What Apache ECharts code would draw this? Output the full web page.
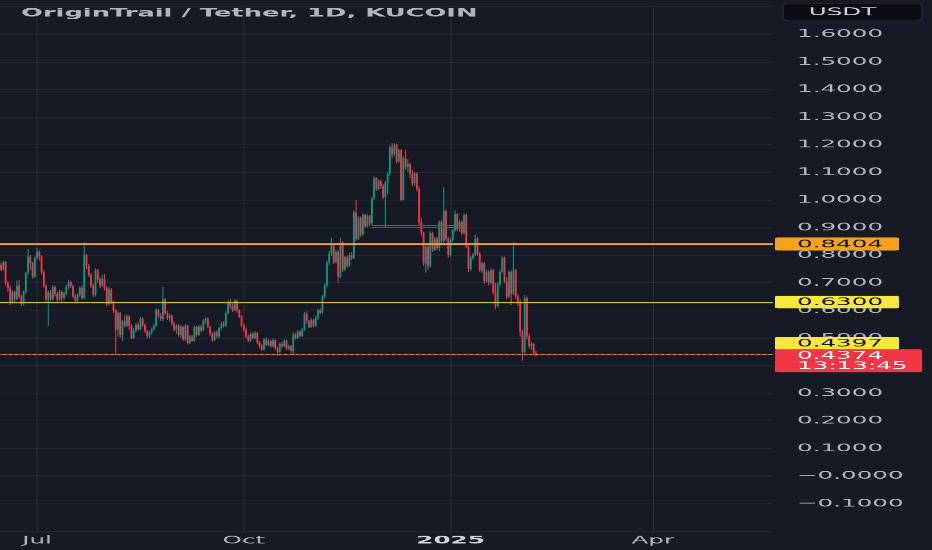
<!DOCTYPE html>
<html>
<head>
<meta charset="utf-8">
<script src="https://cdn.jsdelivr.net/npm/echarts@6/dist/echarts.min.js"></script>
<style>
html,body{margin:0;padding:0;width:932px;height:550px;overflow:hidden;background:#161a25;}
#chart{width:405px;height:550px;transform-origin:0 0;}
</style>
</head>
<body>
<div id="chart"></div>
<script>
// ---------------- data ----------------
const chartTitle = 'OriginTrail / Tether, 1D, KUCOIN';
const currency = 'USDT';
const startDate = '2024-06-15';
const dayCount = 344; // categories shown on the time axis (incl. empty future)
const tickDates = ['2024-07-01', '2024-10-01', '2025-01-01', '2025-04-01'];
const tickLabels = ['Jul', 'Oct', '2025', 'Apr'];

const opens = [
.765,.748,.775,.700,.680,.628,.668,.640,.690,.650,
.622,.668,.735,.795,.770,.722,.790,.812,.795,.740,
.690,.640,.665,.640,.685,.660,.640,.668,.645,.662,
.685,.702,.688,.650,.635,.655,.680,.645,.800,.760,
.728,.690,.655,.745,.712,.690,.715,.680,.622,.675,
.630,.600,.530,.590,.512,.560,.545,.578,.545,.500,
.528,.548,.532,.570,.548,.525,.505,.520,.532,.545,
.602,.580,.568,.640,.590,.572,.580,.552,.530,.545,
.512,.540,.495,.545,.482,.505,.490,.540,.512,.540,
.528,.563,.570,.540,.515,.492,.520,.505,.535,.552,
.545,.590,.630,.615,.600,.635,.600,.578,.545,.530,
.505,.490,.515,.500,.518,.485,.470,.458,.495,.475,
.490,.470,.492,.462,.450,.478,.470,.490,.462,.470,
.452,.512,.500,.522,.508,.530,.588,.560,.540,.565,
.545,.572,.600,.592,.650,.690,.772,.805,.835,.775,
.812,.722,.845,.748,.792,.762,.800,.790,.955,.860,
.935,.875,.945,.905,.940,.915,1.005,1.078,1.040,1.068,
1.050,1.010,1.062,1.095,1.190,1.165,1.200,1.140,1.180,1.000,
1.150,1.120,1.130,1.095,1.060,1.095,1.040,.920,.880,.770,
.830,.760,.880,.820,.860,.825,.920,.850,.960,.860,
.800,.855,.890,.948,.895,.920,.880,.945,.830,.750,
.790,.800,.860,.805,.745,.770,.705,.740,.700,.745,
.665,.615,.695,.740,.790,.705,.650,.740,.660,.745,
.650,.630,.520,.450,.645,.505,.470,.478,.445
];
const closes = [
.748,.775,.700,.680,.628,.668,.640,.690,.650,.622,
.668,.735,.795,.770,.722,.790,.812,.795,.740,.690,
.640,.665,.640,.685,.660,.640,.668,.645,.662,.685,
.702,.688,.650,.635,.655,.680,.645,.800,.760,.728,
.690,.655,.745,.712,.690,.715,.680,.622,.675,.630,
.600,.530,.590,.512,.560,.545,.578,.545,.500,.528,
.548,.532,.570,.548,.525,.505,.520,.532,.545,.602,
.580,.568,.640,.590,.572,.580,.552,.530,.545,.512,
.540,.495,.545,.482,.505,.490,.540,.512,.540,.528,
.563,.570,.540,.515,.492,.520,.505,.535,.552,.545,
.590,.630,.615,.600,.635,.600,.578,.545,.530,.505,
.490,.515,.500,.518,.485,.470,.458,.495,.475,.490,
.470,.492,.462,.450,.478,.470,.490,.462,.470,.452,
.512,.500,.522,.508,.530,.588,.560,.540,.565,.545,
.572,.600,.592,.650,.690,.772,.805,.835,.775,.812,
.722,.845,.748,.792,.762,.800,.790,.955,.860,.935,
.875,.945,.905,.940,.915,1.005,1.078,1.040,1.068,1.050,
1.010,1.062,1.095,1.190,1.165,1.200,1.140,1.180,1.000,1.150,
1.120,1.130,1.095,1.060,1.095,1.040,.920,.880,.770,.830,
.760,.880,.820,.860,.825,.920,.850,.960,.860,.800,
.855,.890,.948,.895,.920,.880,.945,.830,.750,.790,
.800,.860,.805,.745,.770,.705,.740,.700,.745,.665,
.615,.695,.740,.790,.705,.650,.740,.660,.745,.650,
.630,.520,.450,.645,.505,.470,.478,.445,.4374
];
const lows = [
.742,.745,.690,.668,.620,.622,.630,.636,.645,.615,
.618,.660,.728,.745,.715,.718,.785,.780,.730,.680,
.630,.545,.632,.636,.650,.630,.635,.630,.638,.655,
.678,.680,.645,.625,.628,.648,.638,.640,.750,.720,
.680,.648,.650,.700,.680,.685,.672,.615,.618,.622,
.592,.437,.505,.500,.490,.538,.540,.530,.495,.496,
.520,.525,.528,.540,.518,.498,.500,.512,.528,.540,
.574,.562,.560,.585,.565,.560,.545,.524,.515,.505,
.500,.490,.488,.476,.478,.485,.486,.505,.508,.520,
.524,.550,.535,.508,.486,.488,.498,.500,.530,.538,
.540,.585,.605,.595,.596,.592,.572,.538,.522,.498,
.484,.486,.495,.496,.478,.462,.452,.454,.470,.470,
.465,.466,.456,.434,.446,.464,.466,.455,.455,.445,
.437,.494,.496,.502,.504,.526,.552,.535,.536,.538,
.540,.565,.585,.588,.644,.684,.765,.798,.768,.770,
.700,.716,.740,.742,.755,.758,.782,.785,.850,.855,
.866,.870,.898,.900,.905,.910,1.000,1.032,1.035,1.040,
1.002,.900,1.020,1.088,1.150,1.158,1.132,1.135,.995,.998,
1.110,1.100,1.080,1.050,1.052,1.032,.910,.870,.760,.737,
.748,.755,.812,.815,.818,.815,.842,.845,.850,.790,
.795,.848,.885,.888,.885,.872,.875,.825,.740,.742,
.782,.795,.798,.738,.735,.695,.700,.690,.695,.658,
.605,.610,.688,.735,.698,.642,.645,.620,.655,.640,
.615,.505,.418,.445,.495,.462,.455,.438,.432
];
const highs = [
.772,.780,.778,.705,.690,.675,.672,.708,.710,.655,
.672,.740,.822,.800,.775,.795,.826,.818,.800,.745,
.695,.672,.675,.692,.690,.668,.675,.672,.668,.692,
.712,.708,.692,.658,.662,.688,.690,.846,.805,.768,
.735,.698,.752,.750,.720,.728,.732,.688,.685,.680,
.636,.605,.596,.595,.565,.582,.585,.582,.550,.535,
.555,.556,.576,.574,.552,.530,.526,.538,.552,.608,
.606,.590,.685,.645,.598,.588,.585,.560,.550,.550,
.548,.545,.550,.548,.510,.512,.545,.545,.546,.548,
.568,.575,.574,.545,.520,.525,.528,.540,.558,.560,
.596,.636,.641,.625,.641,.638,.606,.584,.552,.536,
.512,.520,.522,.524,.522,.490,.478,.500,.502,.496,
.494,.498,.495,.468,.484,.486,.496,.494,.476,.475,
.520,.518,.528,.528,.535,.594,.596,.566,.572,.570,
.580,.606,.608,.656,.698,.780,.815,.862,.840,.820,
.818,.862,.850,.798,.796,.808,.812,.962,1.000,.942,
.940,.952,.950,.948,.945,1.012,1.085,1.082,1.075,1.075,
1.058,1.068,1.102,1.198,1.206,1.205,1.204,1.186,1.185,1.158,
1.182,1.148,1.135,1.110,1.102,1.100,1.050,.935,.885,.840,
.838,.888,.885,.866,.868,.926,.928,1.045,.965,.868,
.862,.896,.962,.952,.928,.926,.952,.950,.836,.796,
.808,.875,.866,.812,.776,.775,.748,.745,.752,.750,
.700,.702,.746,.796,.795,.720,.745,.745,.846,.750,
.658,.640,.530,.655,.650,.515,.486,.482,.452
];

const resistanceLevel = 0.8404;
const supportLevels = [0.6300, 0.4397];
const lastPrice = 0.4374;
const countdown = '13:13:45';
const zoneStart = '2024-11-27';
const zoneEnd = '2025-01-04';
const zoneLevels = [0.908, 0.899];

// ---------------- chart ----------------
const SX = 932 / 405;               // horizontal stretch of the whole picture
const el = document.getElementById('chart');
el.style.transform = 'scaleX(' + SX + ')';

const dates = [];
(function () {
  const t0 = Date.parse(startDate + 'T00:00:00Z');
  for (let i = 0; i < dayCount; i++) {
    dates.push(new Date(t0 + i * 86400000).toISOString().slice(0, 10));
  }
})();
const tickIdx = new Set(tickDates.map(d => dates.indexOf(d)));
// [index, open, close, low, high]
const candles = opens.map((o, i) => [i, o, closes[i], lows[i], highs[i]]);

const FONT = 'DejaVu Sans';
const FS = 10.7;
const UP = '#089981', DOWN = '#f23645';
const ORANGE = '#f7a21b', YELLOW_LINE = '#d3c11f', YELLOW_TAG = '#f9e83a';
const fmt = v => (v <= 0 ? '\u2212' + Math.abs(v).toFixed(4) : v.toFixed(4));

const chart = echarts.init(el, null, {renderer: 'canvas', devicePixelRatio: SX, width: 405, height: 550});

function renderCandle(params, api) {
  const i = api.value(0);
  const o = api.value(1), c = api.value(2), l = api.value(3), h = api.value(4);
  const pO = api.coord([i, o]), pC = api.coord([i, c]);
  const pL = api.coord([i, l]), pH = api.coord([i, h]);
  const bw = api.size([1, 0])[0] * 0.82;
  const color = c >= o ? UP : DOWN;
  const top = Math.min(pO[1], pC[1]);
  const hgt = Math.max(Math.abs(pO[1] - pC[1]), 1);
  return {
    type: 'group',
    children: [
      {type: 'line', shape: {x1: pH[0], y1: pH[1], x2: pL[0], y2: pL[1]}, style: {stroke: color, lineWidth: 0.45}},
      {type: 'rect', shape: {x: pO[0] - bw / 2, y: top, width: bw, height: hgt}, style: {fill: color}}
    ]
  };
}

const option = {
  animation: false,
  backgroundColor: '#161a25',
  title: {
    text: chartTitle, left: 21 / SX, top: 8, padding: 0,
    textStyle: {color: '#b2b5be', fontSize: 11.2, fontWeight: 'bold', fontFamily: FONT}
  },
  grid: {left: 0, right: (932 - 773) / SX, top: 6.7, bottom: 19.1, containLabel: false},
  xAxis: {
    type: 'category', data: dates, boundaryGap: true,
    axisLine: {show: false},
    axisTick: {show: false, alignWithLabel: true},
    axisLabel: {
      interval: i => tickIdx.has(i),
      formatter: v => {
        const t = tickLabels[tickDates.indexOf(v)];
        return /^\d{4}$/.test(t) ? '{y|' + t + '}' : t;
      },
      color: '#b2b5be', fontSize: FS, fontFamily: FONT, margin: 4,
      rich: {y: {fontWeight: 'bold', color: '#d1d4dc', fontSize: FS, fontFamily: FONT}}
    },
    splitLine: {show: true, alignWithLabel: true, interval: i => tickIdx.has(i), lineStyle: {color: '#2a2e39', width: 1 / SX}}
  },
  yAxis: {
    type: 'value', position: 'right', min: -0.2, max: 1.7, interval: 0.1,
    axisLine: {show: false}, axisTick: {show: false},
    axisLabel: {
      align: 'left', margin: (797 - 773) / SX, color: '#b2b5be', fontSize: FS, fontFamily: FONT,
      showMinLabel: false, showMaxLabel: false, formatter: fmt
    },
    splitLine: {lineStyle: {color: '#222631', width: 1}}
  },
  series: [{
    type: 'custom',
    name: 'TRAC/USDT',
    data: candles,
    encode: {x: 0, y: [1, 2, 3, 4]},
    renderItem: renderCandle,
    clip: true,
    z: 2
  }, {
    type: 'line',
    data: [],
    silent: true,
    z: 3,
    markLine: {
      symbol: ['none', 'none'], silent: true, animation: false,
      label: {show: false},
      data: [
        [{coord: [zoneStart, zoneLevels[0]], lineStyle: {color: '#3a6a92', width: 1, type: 'solid'}}, {coord: [zoneEnd, zoneLevels[0]]}],
        [{coord: [zoneStart, zoneLevels[1]], lineStyle: {color: '#3a6a92', width: 1, type: 'solid'}}, {coord: [zoneEnd, zoneLevels[1]]}],
        {yAxis: supportLevels[0], lineStyle: {color: YELLOW_LINE, width: 1, type: 'solid'}},
        {yAxis: supportLevels[1], lineStyle: {color: YELLOW_LINE, width: 1, type: 'solid'}},
        {yAxis: lastPrice, lineStyle: {color: DOWN, width: 1, type: [1.3, 1.3]}},
        {yAxis: resistanceLevel, lineStyle: {color: ORANGE, width: 2, type: 'solid'}}
      ]
    }
  }]
};
chart.setOption(option);

// ---------- price-scale tags (positions from the axis scale) ----------
const yPix = v => chart.convertToPixel({yAxisIndex: 0}, v);
const tagX = 775 / SX, tagW = (899 - 775) / SX, textX = 797 / SX;
const txt = (s, y, fill) => ({
  type: 'text', z: 101,
  style: {text: s, x: textX, y: y, fill: fill, fontSize: FS, fontFamily: FONT, align: 'left', verticalAlign: 'middle'}
});
const box = (y, w, h, fill) => ({
  type: 'rect', z: 100, shape: {x: tagX, y: y, width: w, height: h, r: 1.2}, style: {fill: fill}
});
const yR = yPix(resistanceLevel), yS1 = yPix(supportLevels[0]), yS2 = yPix(supportLevels[1]) - 11.3, yL = yPix(lastPrice);
const graphics = [
  box(yR - 6.5, tagW, 13, ORANGE), txt(fmt(resistanceLevel), yR + 0.5, '#131722'),
  box(yS1 - 6.3, tagW, 12.6, YELLOW_TAG), txt(fmt(supportLevels[0]), yS1 + 0.3, '#131722'),
  box(yS2 - 6.3, tagW, 12.6, YELLOW_TAG), txt(fmt(supportLevels[1]), yS2 + 0.3, '#131722'),
  box(yL - 6, (922 - 775) / SX, 23, DOWN), txt(fmt(lastPrice), yL + 0.6, '#ffffff'), txt(countdown, yL + 11, '#ffffff'),
  {type: 'rect', z: 100, shape: {x: 783 / SX, y: 3.3, width: 139 / SX, height: 17.5, r: 3}, style: {fill: '#0c0d10', stroke: '#2a2d35', lineWidth: 0.6}},
  {type: 'text', z: 101, style: {text: currency, x: 842.5 / SX, y: 12.3, fill: '#d1d4dc', fontSize: FS, fontFamily: FONT, align: 'center', verticalAlign: 'middle'}}
];
chart.setOption({graphic: graphics});
</script>
</body>
</html>
